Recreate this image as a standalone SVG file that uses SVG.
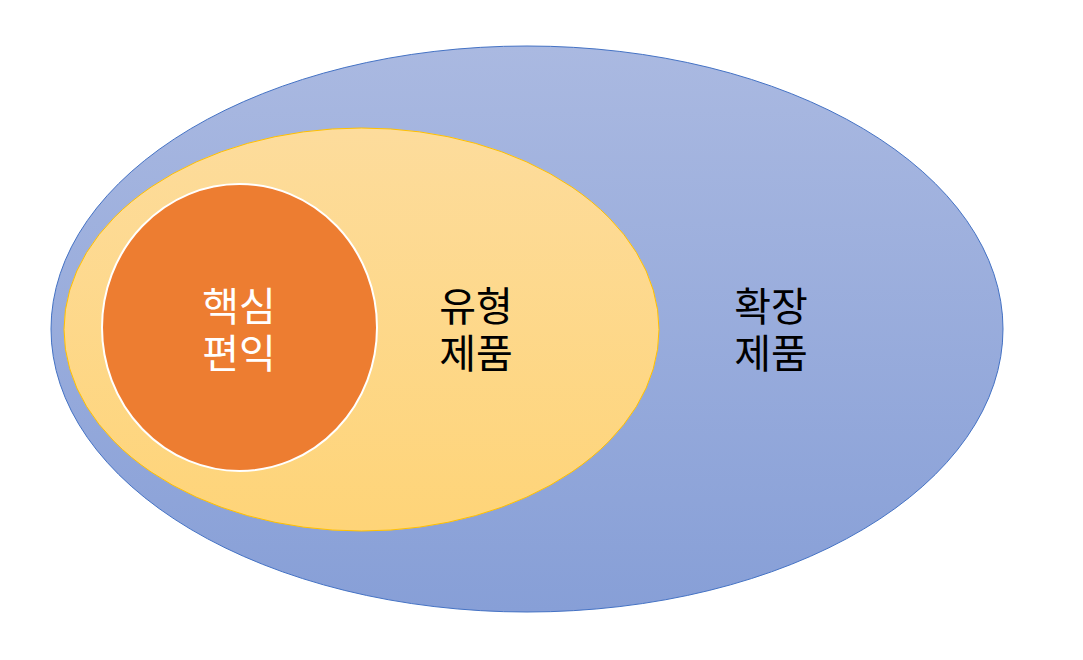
<svg xmlns="http://www.w3.org/2000/svg" width="1083" height="660" viewBox="0 0 1083 660">
<defs>
<linearGradient id="gBlue" x1="0" y1="0" x2="0" y2="1">
<stop offset="0" stop-color="#aab9e1"/>
<stop offset="1" stop-color="#879fd7"/>
</linearGradient>
<linearGradient id="gYel" x1="0" y1="0" x2="0" y2="1">
<stop offset="0" stop-color="#fddc9c"/>
<stop offset="1" stop-color="#fed478"/>
</linearGradient>
<style>
text{font-family:"Noto Sans CJK KR","Liberation Sans",sans-serif;font-size:40px;text-anchor:middle}
.w{fill:#ffffff}
.b{fill:#000000}
</style>
</defs>
<rect width="1083" height="660" fill="#ffffff"/>
<g id="outer">
<ellipse cx="527" cy="329" rx="476" ry="283" fill="url(#gBlue)" stroke="#4472c4" stroke-width="1"/>
<text class="b" x="771" y="321"><tspan x="771">확장</tspan><tspan x="771" dy="47">제품</tspan></text>
</g>
<g id="middle">
<ellipse cx="361.5" cy="329.5" rx="297.5" ry="201.5" fill="url(#gYel)" stroke="#ffc000" stroke-width="1"/>
<text class="b" x="476" y="321"><tspan x="476">유형</tspan><tspan x="476" dy="47">제품</tspan></text>
</g>
<g id="core">
<ellipse cx="239.5" cy="327.5" rx="137.5" ry="143.5" fill="#ed7d31" stroke="#ffffff" stroke-width="2"/>
<text class="w" x="239" y="321"><tspan x="239">핵심</tspan><tspan x="239" dy="47">편익</tspan></text>
</g>
<g id="connectors"/>
</svg>
